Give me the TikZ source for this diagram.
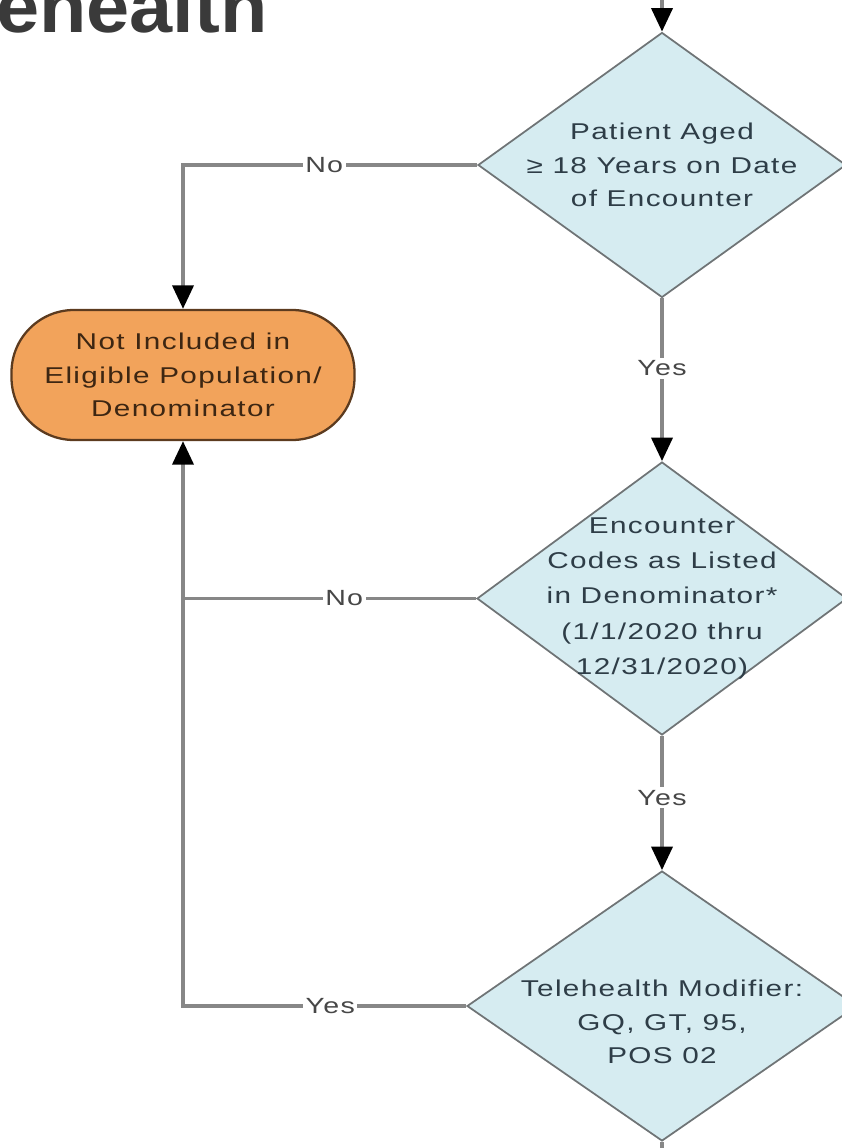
\documentclass[tikz,border=0pt]{standalone}
\usepackage{xcolor}
\usepackage{fontspec}
\usepackage{tikz}
\usetikzlibrary{arrows.meta, positioning, shapes.geometric}
\newfontfamily\flowfont[FakeStretch=1.3, LetterSpace=6]{Liberation Sans}
\newfontfamily\titlefont[FakeStretch=1.05]{Liberation Sans}
\definecolor{decfill}{HTML}{D6ECF1}
\definecolor{decline}{HTML}{6F7476}
\definecolor{decfont}{HTML}{2E3D47}
\definecolor{termfill}{HTML}{F2A35B}
\definecolor{termline}{HTML}{5C3B1F}
\definecolor{termfont}{HTML}{3D2612}
\definecolor{flowline}{HTML}{878787}
\definecolor{labelfont}{HTML}{474747}
\definecolor{titlegray}{HTML}{3A3A3A}

\begin{document}
\begin{tikzpicture}[->,
			>={Triangle[length=0.47cm, width=0.42cm, color=black]},
			flow/.style={draw=flowline, line width=2.1pt},
			decision/.style={diamond, draw=decline, fill=decfill, line width=1pt, inner sep=0pt},
			dectext/.style={align=center, text=decfont, font=\flowfont\fontsize{13}{19}\selectfont},
			terminal/.style={rectangle, rounded corners=1.25cm, draw=termline, fill=termfill, line width=1.3pt,
				minimum width=6.86cm, minimum height=2.6cm, align=center, text=termfont,
				font=\flowfont\fontsize{13}{19}\selectfont},
			answer/.style={fill=white, inner sep=1.5pt, text=labelfont, font=\flowfont\fontsize{12.5}{15}\selectfont},
			heading/.style={text=titlegray, inner sep=0pt, font=\titlefont\bfseries\fontsize{42}{46}\selectfont}]

			\clip (0,0) rectangle (16.84,-22.96);

			% title, cut by the frame
			\node[heading, anchor=base east] (heading) at (5.36,-0.66) {Telehealth};

			% decisions
			\node[decision, minimum width=7.36cm, minimum height=5.3cm] (age) at (13.24,-3.3) {};
			\node[dectext] (age-text) at (age) {Patient Aged\\≥ 18 Years on Date\\of Encounter};

			\node[decision, minimum width=7.4cm, minimum height=5.46cm] (codes) at (13.24,-11.97) {};
			\node[dectext, font=\flowfont\fontsize{13}{20}\selectfont] (codes-text) at (codes) {Encounter\\Codes as Listed\\in Denominator*\\(1/1/2020 thru\\12/31/2020)};

			\node[decision, minimum width=7.8cm, minimum height=5.4cm] (tele) at (13.24,-20.12) {};
			\node[dectext, yshift=-0.32cm] (tele-text) at (tele) {Telehealth Modifier:\\GQ, GT, 95,\\POS 02};

			% exclusion
			\node[terminal] (term) at (3.66,-7.5) {Not Included in\\Eligible Population/\\Denominator};

			\coordinate (entry) at (13.24,0.6);
			\coordinate (exit) at (13.24,-23.6);

			% connectors
			\draw[flow] (entry) -- (age.north);
			\draw[flow] (age.west) -| node[answer, pos=0.26] {No} (term.north);
			\draw[flow] (age.south) -- node[answer, pos=0.43] {Yes} (codes.north);
			\draw[flow, -] (codes.west) -- node[answer, pos=0.45] {No} (codes.west -| term.south);
			\draw[flow] (codes.south) -- node[answer, pos=0.46] {Yes} (tele.north);
			\draw[flow] (tele.west) -| node[answer, pos=0.24] {Yes} (term.south);
			\draw[flow, -] (tele.south) -- (exit);
		\end{tikzpicture}
\end{document}
